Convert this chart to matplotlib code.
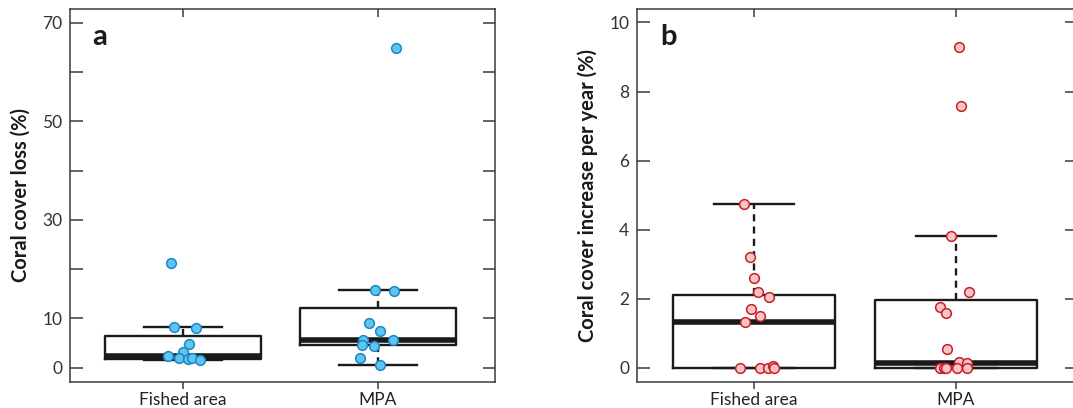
import matplotlib.pyplot as plt

plt.rcParams['font.family'] = ['Lato', 'DejaVu Sans']

groups = ['Fished area', 'MPA']

# panel a: coral cover loss (%)
loss_fished = [21.2, 8.3, 8.0, 4.8, 3.2, 2.4, 2.0, 1.8, 2.0, 1.6]
loss_fished_jit = [-0.061, -0.047, 0.068, 0.031, 0.0, -0.076, -0.022, 0.026, 0.046, 0.085]
loss_mpa = [64.8, 15.8, 15.6, 9.0, 7.4, 5.6, 5.6, 4.7, 4.4, 2.0, 0.5]
loss_mpa_jit = [0.091, -0.015, 0.083, -0.047, 0.012, -0.075, 0.078, -0.08, -0.022, -0.091, 0.012]
# box stats: whislo, q1, med, q3, whishi
loss_box = [[1.6, 1.8, 2.3, 6.5, 8.3], [0.5, 4.6, 5.6, 12.2, 15.8]]

# panel b: coral cover increase per year (%)
inc_fished = [4.73, 3.22, 2.59, 2.19, 2.05, 1.70, 1.50, 1.33, 0.0, 0.0, 0.0, 0.05, 0.0]
inc_fished_jit = [-0.048, -0.020, 0.002, 0.018, 0.072, -0.017, 0.030, -0.045, -0.068, 0.030, 0.067, 0.093, 0.1]
inc_mpa = [9.29, 7.59, 3.83, 2.19, 1.75, 1.58, 0.54, 0.16, 0.13, 0.0, 0.0, 0.0, 0.0, 0.0]
inc_mpa_jit = [0.015, 0.027, -0.025, 0.065, -0.077, -0.048, -0.042, 0.015, 0.057, -0.08, -0.06, -0.047, 0.007, 0.053]
inc_box = [[0.0, 0.0, 1.33, 2.12, 4.73], [0.0, 0.0, 0.15, 1.96, 3.82]]

blue_fill, blue_edge = '#5EC4F0', '#1C87C7'
red_fill, red_edge = '#F8C5C5', '#C81E2C'
frame = '#3a3a3a'


def panel(ax, box, pts, jits, fill, edge, ylim, yticks, ylabels, ylab, letter):
    stats = []
    for name, b in zip(groups, box):
        stats.append(dict(label=name, whislo=b[0], q1=b[1], med=b[2], q3=b[3], whishi=b[4], fliers=[]))
    ax.bxp(stats, positions=[1, 2], widths=0.8, capwidths=0.4, showfliers=False,
           boxprops=dict(color='#1a1a1a', linewidth=1.7),
           medianprops=dict(color='#1a1a1a', linewidth=4.0, solid_capstyle='butt'),
           whiskerprops=dict(color='#1a1a1a', linewidth=1.7, linestyle=(0, (3, 2.2))),
           capprops=dict(color='#1a1a1a', linewidth=1.7))
    for i, (vals, jit) in enumerate(zip(pts, jits)):
        xs = [i + 1 + j for j in jit]
        ax.plot(xs, vals, 'o', ms=7, mfc=fill, mec=edge, mew=1.1, zorder=5, clip_on=False)
    ax.set_xlim(0.42, 2.6)
    ax.set_ylim(*ylim)
    ax.set_yticks(yticks)
    ax.set_yticklabels(ylabels)
    ax.set_xticks([1, 2])
    ax.set_xticklabels(groups)
    for s in ax.spines.values():
        s.set_color(frame)
        s.set_linewidth(1.1)
    ax.tick_params(axis='y', left=True, right=True, direction='in', length=9, width=1.1,
                   color=frame, labelsize=12.5, labelcolor='#333333', pad=5.5)
    ax.tick_params(axis='x', direction='out', length=5, width=1.1, color=frame,
                   labelsize=12.5, labelcolor='#222222', pad=2)
    top = ax.secondary_xaxis('top')
    top.set_xticks([1, 2])
    top.tick_params(direction='in', length=6, width=1.1, color=frame, labeltop=False)
    top.spines['top'].set_visible(False)
    ax.set_ylabel(ylab, fontsize=14.5, fontweight='bold', color='#1a1a1a', labelpad=8)
    ax.text(0.052, 0.96, letter, transform=ax.transAxes, fontsize=21, fontweight='bold',
            va='top', ha='left', color='#1a1a1a')


fig = plt.figure(figsize=(10.73, 4.08), dpi=100)
ax1 = fig.add_axes([70 / 1073, 26 / 408, 425 / 1073, 373 / 408])
ax2 = fig.add_axes([637 / 1073, 26 / 408, 440 / 1073, 373 / 408])

panel(ax1, loss_box, [loss_fished, loss_mpa], [loss_fished_jit, loss_mpa_jit],
      blue_fill, blue_edge, (-2.9, 72.8), list(range(0, 71, 10)),
      ['0', '10', '', '30', '', '50', '', '70'], 'Coral cover loss (%)', 'a')
panel(ax2, inc_box, [inc_fished, inc_mpa], [inc_fished_jit, inc_mpa_jit],
      red_fill, red_edge, (-0.41, 10.39), list(range(0, 11, 2)),
      [str(v) for v in range(0, 11, 2)], 'Coral cover increase per year (%)', 'b')

fig.savefig('out.png', dpi=100)
